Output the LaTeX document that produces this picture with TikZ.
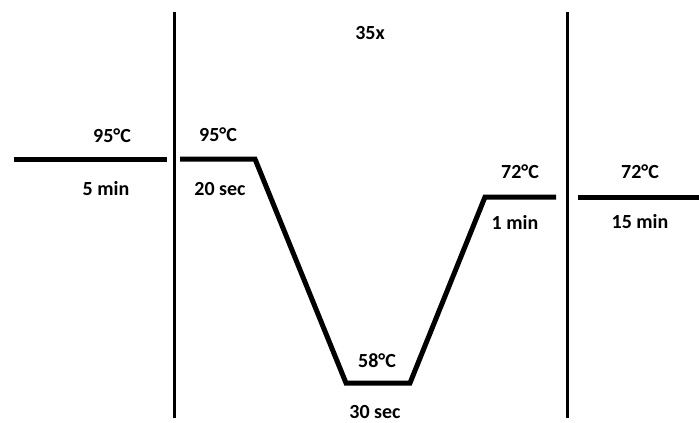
\documentclass[tikz,border=0pt]{standalone}
\usepackage{fontspec}
\setmainfont{Carlito}
\usetikzlibrary{positioning}

\tikzset{
  lbl/.style={font=\fontsize{20}{24}\selectfont\bfseries,inner sep=0pt},
  curve/.style={line width=5pt,line join=miter},
  divider/.style={line width=3pt}
}

\begin{document}
\begin{tikzpicture}[x=1pt,y=-1pt]
\useasboundingbox (0,0) rectangle (699,423);

% cycle dividers
\coordinate (d1top) at (174,12);
\coordinate (d1bot) at (174,418);
\coordinate (d2top) at (567,12);
\coordinate (d2bot) at (567,418);
\draw[divider] (d1top) -- (d1bot);
\draw[divider] (d2top) -- (d2bot);

% temperature profile
\coordinate (init0) at (14,159);
\coordinate (init1) at (167,159);
\draw[curve] (init0) -- (init1);

\coordinate (den0) at (180,159);
\coordinate (den1) at (255,159);
\coordinate (ann0) at (346,383);
\coordinate (ann1) at (410,383);
\coordinate (ext0) at (485,197);
\coordinate (ext1) at (556,197);
\draw[curve] (den0) -- (den1) -- (ann0) -- (ann1) -- (ext0) -- (ext1);

\coordinate (fin0) at (578,197);
\coordinate (fin1) at (699,197);
\draw[curve] (fin0) -- (fin1);

% labels
\node[lbl] (cycles) at (370,33) {35x};
\node[lbl] (t1) at (112,136) {95°C};
\node[lbl] (s1) at (106,189) {5 min};
\node[lbl] (t2) at (218,135) {95°C};
\node[lbl] (s2) at (220,189) {20 sec};
\node[lbl] (t3) at (377,361) {58°C};
\node[lbl] (s3) at (375,412) {30 sec};
\node[lbl] (t4) at (520,172) {72°C};
\node[lbl] (s4) at (515,222) {1 min};
\node[lbl] (t5) at (640,172) {72°C};
\node[lbl] (s5) at (640,222) {15 min};
\end{tikzpicture}
\end{document}
